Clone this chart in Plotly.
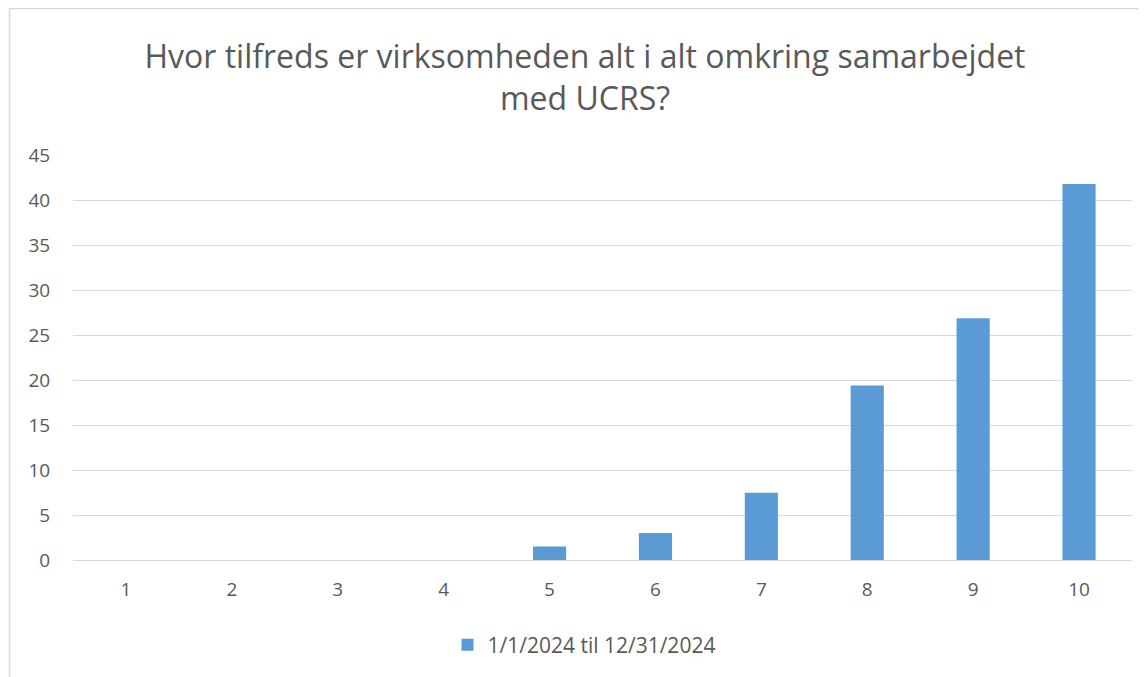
import plotly.graph_objects as go

categories = ["1", "2", "3", "4", "5", "6", "7", "8", "9", "10"]
values = [0, 0, 0, 0, 1.49, 2.99, 7.46, 19.40, 26.87, 41.79]
series_name = "1/1/2024 til 12/31/2024"
title_text = "Hvor tilfreds er virksomheden alt i alt omkring samarbejdet<br>med UCRS?"
y_ticks = [0, 5, 10, 15, 20, 25, 30, 35, 40, 45]

# page body has an 8px margin; figure coordinates = reference pixels - 8
OFF = 8
W, H = 1147 - OFF, 677 - OFF
L = 73 - OFF
T = 155 - OFF
R = W - (1132 - OFF)
B = H - (560 - OFF)
pw = W - L - R
ph = H - T - B

fig = go.Figure()
fig.add_trace(go.Bar(
    x=categories, y=values, name=series_name,
    marker=dict(color="#5b9bd5", line=dict(width=0)),
    width=0.313,
    showlegend=True,
))

font_fam = "'Open Sans', sans-serif"
fig.update_layout(
    width=W, height=H,
    margin=dict(l=L, r=R, t=T, b=B),
    paper_bgcolor="white", plot_bgcolor="white",
    font=dict(family=font_fam, color="#595959", size=19),
    title=dict(text=title_text, x=(585 - OFF - L) / pw, xanchor="center", xref="paper",
               y=(H - (68 - OFF)) / H, yanchor="middle",
               font=dict(size=32, color="#595959", family=font_fam)),
    xaxis=dict(type="category", showgrid=False, showline=False, zeroline=False,
               ticks="outside", ticklen=12, tickcolor="rgba(0,0,0,0)",
               tickfont=dict(size=19, color="#595959")),
    yaxis=dict(range=[0, 45], tickvals=y_ticks, showgrid=True, gridcolor="#d9d9d9",
               gridwidth=1, zeroline=True, zerolinecolor="#d9d9d9", zerolinewidth=1,
               showline=False, ticks="outside", ticklen=18, tickcolor="rgba(0,0,0,0)",
               tickfont=dict(size=19, color="#595959")),
    legend=dict(orientation="h", x=(584 - OFF - L) / pw, xanchor="center",
                y=(H - (645 - OFF) - B) / ph,
                yanchor="middle", font=dict(size=21, color="#595959"),
                itemwidth=30),
    shapes=[dict(type="rect", xref="paper", yref="paper",
                 x0=(1.5 - L) / pw, x1=1.2, y0=-0.5, y1=(H - B - 0.5) / ph,
                 line=dict(color="#d9d9d9", width=1.5), fillcolor="rgba(0,0,0,0)",
                 layer="below")],
)

fig.write_html("out.html")
